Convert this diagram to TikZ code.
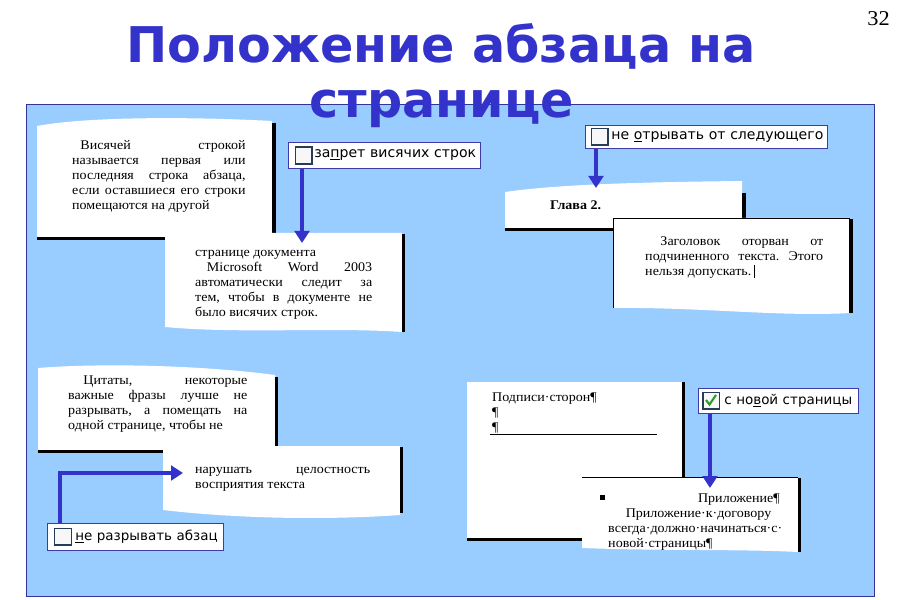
\documentclass[tikz,border=0pt]{standalone}
\usepackage{fontspec}
\setmainfont{Liberation Serif}[FakeStretch=1.06]
\newfontfamily\headfont{DejaVu Sans}
\newfontfamily\uifont{DejaVu Sans}
\usetikzlibrary{arrows.meta}
\definecolor{titleblue}{RGB}{51,51,204}
\definecolor{panelblue}{RGB}{153,204,255}
\definecolor{panelline}{RGB}{51,51,153}
\definecolor{boxline}{RGB}{60,60,170}
\definecolor{sqline}{RGB}{40,60,90}
\definecolor{tickgreen}{RGB}{40,160,40}
\tikzset{
  sheet/.style={fill=white},
  sheetshade/.style={line width=0.1cm},
  para/.style={anchor=north west, inner sep=0, align=justify, font=\fontsize{11.3}{12.8}\selectfont},
  cbox/.style={draw=boxline, fill=white, line width=0.6pt, anchor=north west, inner sep=0, align=left, font=\uifont\fontsize{11.5}{13}\selectfont},
  sq/.style={draw=sqline, line width=1.4pt, fill=gray!6, minimum size=0.5cm, inner sep=0},
  link/.style={draw=titleblue, line width=0.12cm, -{Triangle[length=0.36cm,width=0.44cm]}},
  headline/.style={text=titleblue, font=\headfont\bfseries\fontsize{42}{50}\selectfont, anchor=base}
}
\begin{document}
\begin{tikzpicture}[x=0.03cm, y=-0.03cm]
\useasboundingbox[fill=white] (0,0) rectangle (900,600);
% panel
\draw[panelline, fill=panelblue, line width=0.8pt] (26,104) rectangle (874,596);
% title
\node[headline] (head1) at (441,63) {Положение абзаца на};
\node[headline] (head2) at (442,118) {странице};
\node[anchor=north east, inner sep=0, font=\fontsize{18}{20}\selectfont] (pgnum) at (890,11) {32};

% widow lines
\fill[sheet] (37,126) .. controls (90,116) and (200,117) .. (272,121) -- (272,237) -- (37,237) -- cycle;
\draw[sheetshade] (274,123) -- (274,239);
\draw[sheetshade] (37,238.5) -- (275,238.5);
\node[para, text width=5.2cm] (widowText) at (72,138.5)
  {\parfillskip=0pt\strut\hspace*{7pt}Висячей~строкой\linebreak называется~первая~или\linebreak последняя~строка~абзаца,\linebreak если~оставшиеся~его~строки\linebreak помещаются~на~другой};
\fill[sheet] (165,233) -- (402,233) -- (402,332) .. controls (330,327) and (240,334) .. (165,327) -- cycle;
\draw[sheetshade] (403.5,234) -- (403.5,332);
\node[para, text width=5.31cm] (wordText) at (195,245.5)
  {\strut странице~документа\par\hspace*{10pt}Microsoft~Word~2003\linebreak автоматически~следит~за\linebreak тем,~чтобы~в~документе~не\linebreak было висячих строк.};

% heading kept with next
\fill[sheet] (505,192) .. controls (560,184) and (650,182) .. (742,181) -- (742,228) -- (505,228) -- cycle;
\draw[sheetshade] (744,193) -- (744,230);
\draw[sheetshade] (505,229.5) -- (745,229.5);
\node[anchor=base west, inner sep=0, font=\bfseries\fontsize{11.3}{12.8}\selectfont] (chapter) at (550,210) {Глава 2.};
\fill[sheet] (613,218) -- (850,218) -- (850,313) .. controls (780,317) and (700,307) .. (613,308) -- cycle;
\draw[line width=0.6pt] (613,308) -- (613,218) -- (850,218);
\draw[sheetshade] (851,219) -- (851,313);
\node[para, text width=5.34cm] (headText) at (645,234.5)
  {\strut\hspace*{13pt}Заголовок~оторван~от\linebreak подчиненного~текста.~Этого\linebreak нельзя допускать.\,\rule[-2pt]{1.2pt}{11pt}};

% keep lines together
\fill[sheet] (38,368) .. controls (100,363) and (200,365) .. (275,375) -- (275,450) -- (38,450) -- cycle;
\draw[sheetshade] (276.5,377) -- (276.5,452);
\draw[sheetshade] (38,451.5) -- (278,451.5);
\node[para, text width=5.37cm] (quoteText) at (68,373.5)
  {\parfillskip=0pt\strut\hspace*{13pt}Цитаты,~некоторые\linebreak важные~фразы~лучше~не\linebreak разрывать,~а~помещать~на\linebreak одной~странице,~чтобы~не};
\fill[sheet] (163,446) -- (400,446) -- (400,515) .. controls (330,520) and (240,519) .. (163,510) -- cycle;
\draw[sheetshade] (401.5,447) -- (401.5,513);
\node[para, text width=5.25cm] (restText) at (195,462.5)
  {\strut нарушать~целостность\linebreak восприятия текста};

% page break before
\fill[sheet] (467,382) rectangle (682,538);
\draw[sheetshade] (683.5,382) -- (683.5,540);
\draw[sheetshade] (467,539.5) -- (685,539.5);
\node[para, align=left] (signText) at (492,390.5) {\strut Подписи·сторон¶\\¶\\¶};
\draw[line width=0.7pt] (490,434) -- (657,434);
\fill[sheet] (582,477) -- (798,477) -- (798,552) .. controls (740,549) and (660,551) .. (582,548) -- cycle;
\draw[line width=0.6pt] (582,477) -- (798,477);
\draw[sheetshade] (799.5,478) -- (799.5,552);
\node[fill, minimum size=0.15cm, inner sep=0] (bulletMark) at (602.5,497.5) {};
\node[anchor=base east, inner sep=0, font=\fontsize{11.3}{12.8}\selectfont] (appTitle) at (780,502) {Приложение¶};
\node[para, align=left, text width=5.16cm] (appText) at (608,506.5)
  {\strut\hspace*{15pt}Приложение·к·договору\\всегда·должно·начинаться·с·\\новой·страницы¶};

% check boxes
\node[cbox, minimum width=5.76cm, minimum height=0.78cm, text width=5.76cm, font=\uifont\fontsize{12}{13}\selectfont] (cbWidow) at (288,142)
  {\mbox{\hspace*{0.78cm}за\underline{п}рет висячих строк}};
\node[sq] (sqWidow) at ([xshift=0.47cm]cbWidow.west) {};
\node[cbox, minimum width=7.26cm, minimum height=0.69cm, text width=7.26cm, font=\uifont\fontsize{12}{13}\selectfont] (cbNext) at (585,125)
  {\mbox{\hspace*{0.78cm}не \underline{о}трывать от следующего}};
\node[sq] (sqNext) at ([xshift=0.44cm]cbNext.west) {};
\node[cbox, minimum width=5.28cm, minimum height=0.81cm, text width=5.28cm] (cbKeep) at (47,523)
  {\mbox{\hspace*{0.84cm}\underline{н}е разрывать абзац}};
\node[sq] (sqKeep) at ([xshift=0.48cm]cbKeep.west) {};
\node[cbox, minimum width=4.8cm, minimum height=0.75cm, text width=4.8cm] (cbBreak) at (698,388)
  {\mbox{\hspace*{0.78cm}с но\underline{в}ой страницы}};
\node[sq] (sqBreak) at ([xshift=0.4cm]cbBreak.west) {};
\draw[tickgreen, line width=1.8pt] (706,400) -- (709.5,404.5) -- (716,395);

% arrows
\coordinate (widowIn) at (302,243);
\coordinate (nextIn) at (596,188);
\coordinate (keepArm) at (60,473);
\coordinate (keepIn) at (183,473);
\coordinate (breakIn) at (710,488);
\draw[link] (cbWidow.south -| widowIn) -- (widowIn);
\draw[link] (cbNext.south -| nextIn) -- (nextIn);
\draw[link] (cbKeep.north -| keepArm) |- (keepIn);
\draw[link] (cbBreak.south -| breakIn) -- (breakIn);
\end{tikzpicture}
\end{document}
